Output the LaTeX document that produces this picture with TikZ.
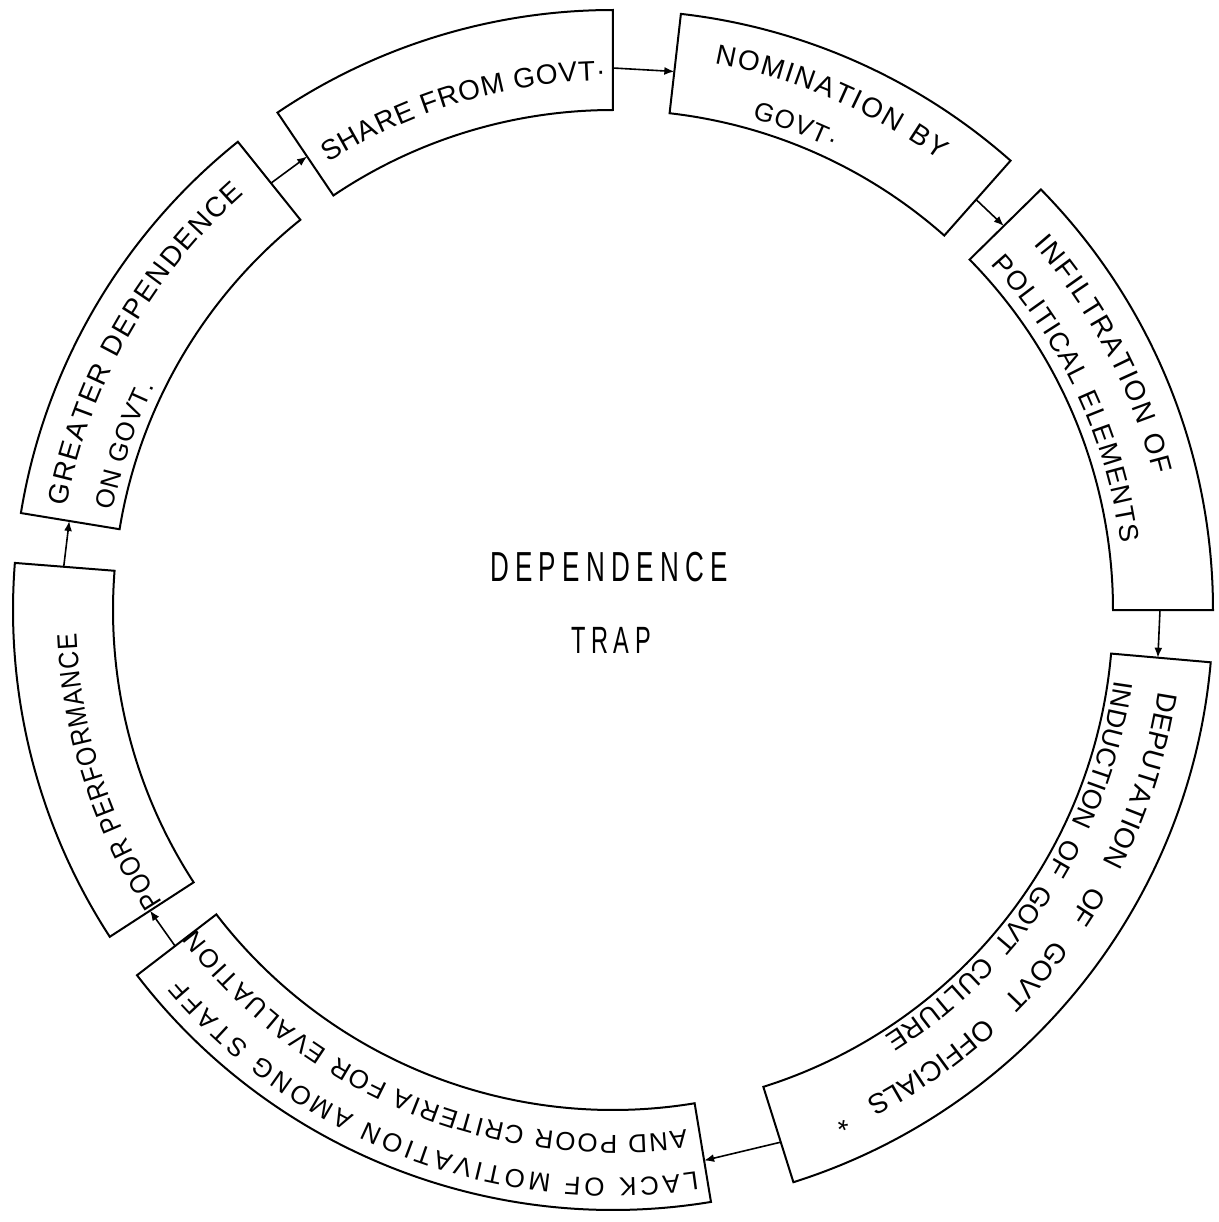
\documentclass[tikz,border=0pt]{standalone}
\usepackage{fontspec}
\setmainfont{Liberation Sans}
\newfontfamily\lettering{Liberation Sans}
\newfontfamily\letteringN[FakeStretch=0.88]{Liberation Sans}
\newfontfamily\centerfont[FakeStretch=0.62,LetterSpace=15]{Liberation Sans}
\usetikzlibrary{decorations.text,arrows.meta}

\tikzset{
  ringbox/.style={draw=black, line width=1pt, line join=miter},
  flowarrow/.style={draw=black, line width=0.8pt, -{Latex[length=5pt,width=4pt]}},
  centertext/.style={inner sep=0pt, font=\centerfont\fontsize{21}{21}\selectfont},
}

% sector of the ring between two angles
\newcommand\ringsector[2]{%
  \draw[ringbox] (#1:300pt) arc[start angle=#1, end angle=#2, radius=300pt]
     -- (#2:250pt) arc[start angle=#2, end angle=#1, radius=250pt] -- cycle;
}
% one line of text set along an arc: radius, start, end, font, alignment, text
\newcommand\arcline[6]{%
  \path[decorate, decoration={text along path, text align={#5},
     text={|#4|#6}}] (#2:#1) arc[start angle=#2, end angle=#3, radius=#1];
}

\begin{document}
\begin{tikzpicture}
\useasboundingbox (-306.5pt,-306pt) rectangle (303pt,305pt);
\fill[white] (-306.5pt,-306pt) rectangle (303pt,305pt);

% boxes of the ring
\ringsector{124}{90}      % share
\ringsector{83.5}{48.5}   % nomination
\ringsector{44.5}{0}      % infiltration
\ringsector{-5}{-72.5}    % deputation
\ringsector{-80.6}{-142.5}% lack of motivation
\ringsector{213}{175.5}   % poor performance
\ringsector{170.7}{128.7} % greater dependence

% texts
\arcline{265pt}{122.5}{90.8}{\lettering\fontsize{14}{14}\selectfont}{fit to path}{SHARE FROM GOVT·}
\arcline{278pt}{79.5}{54}{\lettering\fontsize{14}{14}\selectfont}{fit to path}{NOMINATION BY}
\arcline{255.5pt}{74.2}{64.5}{\lettering\fontsize{13}{13}\selectfont}{fit to path}{GOVT·}
\arcline{278.5pt}{41}{14}{\lettering\fontsize{14}{14}\selectfont}{fit to path}{INFILTRATION OF}
\arcline{256pt}{42.5}{7.5}{\lettering\fontsize{13.5}{13.5}\selectfont}{fit to path}{POLITICAL ELEMENTS}
\arcline{275.5pt}{-8.5}{-66.5}{\lettering\fontsize{14}{14}\selectfont}{fit to path stretching spaces}{DEPUTATION OF GOVT OFFICIALS *}
\arcline{253pt}{-8}{-57.5}{\lettering\fontsize{13.5}{13.5}\selectfont}{fit to path stretching spaces}{INDUCTION OF GOVT CULTURE}
\arcline{284pt}{-81.5}{-139.5}{\lettering\fontsize{13}{13}\selectfont}{fit to path}{LACK OF MOTIVATION AMONG STAFF}
\arcline{262.5pt}{-82}{-142.5}{\lettering\fontsize{13}{13}\selectfont}{fit to path}{AND POOR CRITERIA FOR EVALUATION}
\arcline{268.5pt}{213}{182.5}{\letteringN\fontsize{14}{14}\selectfont}{fit to path}{POOR PERFORMANCE}
\arcline{278pt}{169.3}{131.5}{\lettering\fontsize{14}{14}\selectfont}{fit to path}{GREATER DEPENDENCE}
\arcline{255pt}{168.8}{154}{\lettering\fontsize{13}{13}\selectfont}{fit to path}{ON GOVT.}

% arrow end points
\coordinate (greater-tail) at (128.7:273.5pt);
\coordinate (share-head)   at (124:273.5pt);
\coordinate (share-tail)   at (90:271pt);
\coordinate (nom-head)     at (83.5:271pt);
\coordinate (nom-tail)     at (48.5:274pt);
\coordinate (inf-head)     at (44.5:274pt);
\coordinate (inf-tail)     at (0:273.5pt);
\coordinate (dep-head)     at (-5:273.5pt);
\coordinate (dep-tail)     at (-72.5:279pt);
\coordinate (lack-head)    at (-80.6:279pt);
\coordinate (lack-tail)    at (217.5:276pt);
\coordinate (poor-head)    at (213:276pt);
\coordinate (poor-tail)    at (175.5:275.5pt);
\coordinate (greater-head) at (170.7:275.5pt);

\draw[flowarrow] (greater-tail) -- (share-head);
\draw[flowarrow] (share-tail) -- (nom-head);
\draw[flowarrow] (nom-tail) -- (inf-head);
\draw[flowarrow] (inf-tail) -- (dep-head);
\draw[flowarrow] (dep-tail) -- (lack-head);
\draw[flowarrow] (lack-tail) -- (poor-head);
\draw[flowarrow] (poor-tail) -- (greater-head);

% centre
\node[centertext] (dep) at (-2pt,21.5pt) {DEPENDENCE};
\node[centertext, font=\centerfont\fontsize{19}{19}\selectfont] (trap) at (-1pt,-15pt) {TRAP};
\end{tikzpicture}
\end{document}
